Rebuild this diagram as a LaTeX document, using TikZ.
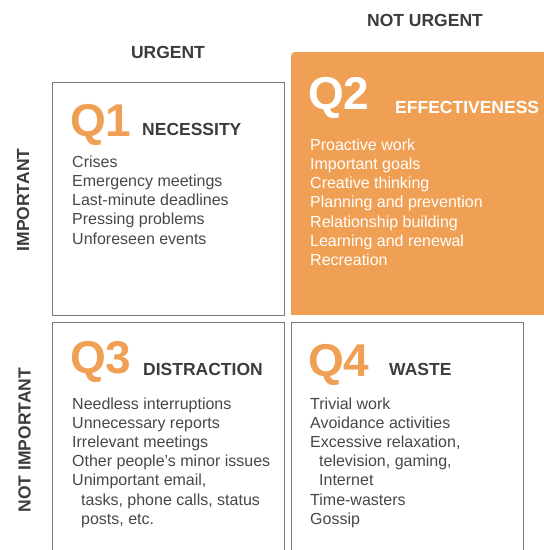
\documentclass[tikz,border=0pt]{standalone}
\usepackage{fontspec}
\setmainfont{Liberation Sans}
\definecolor{qorange}{HTML}{F0A054}
\definecolor{ink}{HTML}{3C3C3C}
\definecolor{itemgray}{HTML}{474747}
\definecolor{framegray}{HTML}{7A7A7A}
\begin{document}
\begin{tikzpicture}[x=1pt,y=-1pt,
  axislabel/.style={font=\fontsize{17.5}{20}\selectfont\bfseries, text=ink, inner sep=0},
  qnum/.style={font=\fontsize{46}{50}\selectfont\bfseries, inner sep=0, anchor=base west},
  qtitle/.style={font=\fontsize{17.5}{20}\selectfont\bfseries, inner sep=0, anchor=base west},
  item/.style={font=\fontsize{16}{19}\selectfont, text=itemgray, inner sep=0, anchor=base west},
  itemwhite/.style={item, text=white},
  quadframe/.style={draw=framegray, line width=1pt}]
\useasboundingbox (0,0) rectangle (544,550);

% quadrant panels (the lower ones run off the bottom edge)
\begin{scope}
  \clip (0,0) rectangle (544,550);
  \fill[qorange, rounded corners=4pt] (291,52) rectangle (560,314.5);
  \fill[qorange] (291,120) rectangle (560,314.5);
  \draw[quadframe] (52.5,82) rectangle (284.5,315);
  \draw[quadframe] (52.5,322) rectangle (284.5,570);
  \draw[quadframe] (291.5,322) rectangle (523.5,570);
\end{scope}

% axis headings
\node[axislabel, anchor=base] (urg) at (168,58) {URGENT};
\node[axislabel, anchor=base] (nurg) at (425,26) {NOT URGENT};
\node[axislabel, rotate=90] (imp) at (23,200) {IMPORTANT};
\node[axislabel, rotate=90] (nimp) at (24.5,440) {NOT IMPORTANT};

% Q1
\node[qnum, text=qorange] (q1) at (70,136) {Q1};
\node[qtitle, text=ink] (q1t) at (142,135) {NECESSITY};
\foreach \t [count=\i from 0] in {Crises, Emergency meetings, Last-minute deadlines, Pressing problems, Unforeseen events}
  \node[item] (q1i\i) at (72,167+19.3*\i) {\t};

% Q2
\node[qnum, text=white] (q2) at (308,109) {Q2};
\node[qtitle, text=white] (q2t) at (395,113) {EFFECTIVENESS};
\foreach \t [count=\i from 0] in {Proactive work, Important goals, Creative thinking, Planning and prevention, Relationship building, Learning and renewal, Recreation}
  \node[itemwhite] (q2i\i) at (310,150+19.3*\i) {\t};

% Q3
\node[qnum, text=qorange] (q3) at (70,373) {Q3};
\node[qtitle, text=ink] (q3t) at (143,375.5) {DISTRACTION};
\node[item] (q3i0) at (72,409) {Needless interruptions};
\node[item] (q3i1) at (72,428.2) {Unnecessary reports};
\node[item] (q3i2) at (72,447.4) {Irrelevant meetings};
\node[item] (q3i3) at (72,466.6) {Other people’s minor issues};
\node[item] (q3i4) at (72,485.8) {Unimportant email,};
\node[item] (q3i5) at (81,505) {tasks, phone calls, status};
\node[item] (q3i6) at (81,524.2) {posts, etc.};

% Q4
\node[qnum, text=qorange] (q4) at (308,376) {Q4};
\node[qtitle, text=ink] (q4t) at (389,375) {WASTE};
\node[item] (q4i0) at (310,409) {Trivial work};
\node[item] (q4i1) at (310,428.2) {Avoidance activities};
\node[item] (q4i2) at (310,447.4) {Excessive relaxation,};
\node[item] (q4i3) at (319,466.6) {television, gaming,};
\node[item] (q4i4) at (319,485.8) {Internet};
\node[item] (q4i5) at (310,505) {Time-wasters};
\node[item] (q4i6) at (310,524.2) {Gossip};
\end{tikzpicture}
\end{document}
